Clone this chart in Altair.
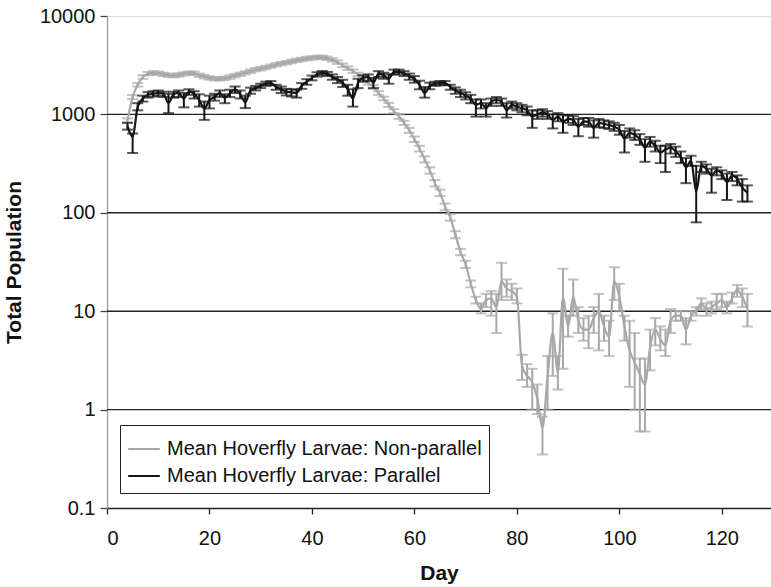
import altair as alt
import pandas as pd

days = list(range(4, 126))

gray_mean = [870, 1500, 2000, 2400, 2600, 2650, 2620, 2550, 2500, 2480,
             2520, 2580, 2640, 2620, 2500, 2420, 2350, 2310, 2300, 2330,
             2400, 2480, 2560, 2650, 2750, 2850, 2920, 3000, 3100, 3200,
             3280, 3360, 3450, 3550, 3620, 3700, 3750, 3800, 3800, 3720,
             3580, 3400, 3150, 2950, 2750, 2550, 2300, 2100, 1900, 1650,
             1450, 1250, 1080, 950, 820, 690, 560, 450, 350, 270,
             200, 160, 115, 90, 60, 40, 30, 19, 13, 10.5,
             13, 13.5, 11, 20, 17, 16, 14, 2.8, 2.2, 1.9,
             1.3, 0.65, 2.2, 6, 2.4, 14, 7, 14, 8, 6.5,
             6.5, 8.5, 10, 7, 5.5, 20, 14, 7, 4, 3,
             2.3, 1.8, 4.3, 6.5, 5.2, 4.5, 8, 9, 9, 6.5,
             9, 10, 12, 10.5, 11, 12, 13, 11, 13.5, 16.5,
             14, 10.5]
gray_lo = [830, 1430, 1920, 2300, 2500, 2550, 2520, 2450, 2400, 2380,
           2420, 2480, 2540, 2520, 2400, 2320, 2260, 2220, 2210, 2240,
           2300, 2380, 2460, 2550, 2640, 2740, 2800, 2880, 2980, 3070,
           3150, 3230, 3310, 3410, 3480, 3550, 3600, 3650, 3650, 3570,
           3440, 3260, 3020, 2830, 2640, 2450, 2210, 2010, 1820, 1580,
           1390, 1190, 1030, 900, 780, 650, 525, 420, 325, 250,
           185, 148, 106, 83, 55, 37, 27.5, 17.5, 12, 9.5,
           11, 9, 6, 13, 14, 13, 12, 2, 1.7, 1,
           0.9, 0.35, 1, 2.2, 1.6, 2.6, 5.5, 9, 6, 5,
           4.2, 6, 4, 5, 3.5, 13, 10, 5, 1.7, 1,
           0.6, 0.6, 2.5, 4.5, 4, 3.5, 6, 8, 8, 4.6,
           8, 9, 10.5, 9, 9.5, 10.5, 11, 9.5, 12, 14,
           11, 7]
gray_hi = [910, 1570, 2080, 2500, 2700, 2750, 2720, 2650, 2600, 2580,
           2620, 2680, 2740, 2720, 2600, 2520, 2440, 2400, 2390, 2420,
           2500, 2580, 2660, 2750, 2860, 2960, 3040, 3120, 3220, 3330,
           3410, 3490, 3590, 3690, 3760, 3850, 3900, 3950, 3950, 3870,
           3720, 3540, 3280, 3070, 2860, 2650, 2390, 2190, 1980, 1720,
           1510, 1310, 1130, 1000, 860, 730, 595, 480, 375, 290,
           215, 172, 124, 97, 65, 43, 32.5, 20.5, 14, 12,
           15, 16, 15, 31, 21, 19, 17, 3.6, 2.9, 2.6,
           1.8, 0.85, 3.5, 9.5, 3.5, 27, 9, 21, 11, 8.5,
           9, 11, 15, 9, 8, 28, 19, 9, 8, 6,
           3.3, 3.3, 6.5, 8.5, 7, 6.5, 10.5, 10, 10, 8.5,
           10, 11, 13.5, 12, 12.5, 15, 15, 12.5, 15.5, 18.5,
           17, 15]

black_mean = [760, 590, 1200, 1450, 1580, 1620, 1650, 1620, 1300, 1600,
              1650, 1450, 1700, 1620, 1400, 1150, 1400, 1500, 1650, 1470,
              1650, 1800, 1600, 1330, 1750, 1850, 1950, 2050, 2080, 1900,
              1800, 1700, 1680, 1650, 1950, 2150, 2350, 2550, 2640, 2580,
              2400, 2250, 2100, 1800, 1450, 2100, 2350, 2400, 2100, 2600,
              2500, 2300, 2700, 2700, 2600, 2450, 2300, 2000, 1650, 1950,
              2050, 2080, 2080, 1900, 1750, 1650, 1550, 1450, 1250, 1300,
              1160, 1350, 1400, 1350, 1100, 1250, 1200, 1150, 1100, 950,
              1000, 1040, 1000, 880, 950, 840, 900, 880, 750, 850,
              840, 730, 820, 800, 780, 750, 700, 570, 650, 620,
              560, 460, 530, 480, 410, 440, 460, 420, 370, 290,
              340, 165, 300, 280, 240, 270, 250, 205, 240, 220,
              180, 160]
black_lo = [700, 405, 1100, 1350, 1480, 1520, 1550, 1500, 1030, 1480,
            1500, 1180, 1580, 1450, 1200, 880, 1150, 1380, 1500, 1300,
            1500, 1650, 1450, 1160, 1620, 1750, 1850, 1950, 1980, 1780,
            1650, 1560, 1520, 1480, 1820, 2000, 2220, 2420, 2520, 2450,
            2250, 2080, 1900, 1550, 1200, 1850, 2150, 2200, 1850, 2400,
            2300, 2050, 2550, 2550, 2450, 2250, 2100, 1800, 1480, 1800,
            1950, 1980, 1980, 1780, 1620, 1500, 1420, 1300, 950, 1150,
            950, 1220, 1300, 1220, 930, 1150, 1100, 1050, 980, 730,
            900, 950, 900, 720, 850, 650, 820, 780, 600, 780,
            750, 580, 740, 730, 710, 680, 620, 410, 580, 550,
            490, 330, 470, 420, 320, 260, 400, 370, 320, 200,
            300, 80, 260, 250, 160, 240, 220, 135, 210, 190,
            130, 130]
black_hi = [820, 640, 1300, 1550, 1680, 1720, 1750, 1700, 1620, 1700,
            1750, 1650, 1800, 1720, 1600, 1350, 1550, 1620, 1750, 1600,
            1780, 1920, 1750, 1550, 1870, 1950, 2050, 2150, 2180, 2000,
            1920, 1820, 1800, 1780, 2080, 2280, 2480, 2680, 2760, 2700,
            2550, 2400, 2250, 2000, 1800, 2300, 2500, 2550, 2350, 2750,
            2650, 2550, 2850, 2850, 2750, 2600, 2450, 2200, 1900, 2100,
            2150, 2180, 2180, 2000, 1880, 1780, 1680, 1580, 1420, 1420,
            1300, 1450, 1500, 1450, 1300, 1350, 1300, 1250, 1200, 1100,
            1100, 1130, 1080, 1000, 1030, 980, 980, 960, 900, 920,
            920, 870, 900, 870, 850, 820, 780, 680, 720, 690,
            630, 560, 590, 540, 480, 480, 500, 470, 420, 360,
            380, 300, 330, 310, 280, 290, 270, 250, 260, 240,
            220, 190]

series_names = ["Mean Hoverfly Larvae: Non-parallel", "Mean Hoverfly Larvae: Parallel"]
series_colors = ["#a8a8a8", "#141414"]
x_ticks = [0, 20, 40, 60, 80, 100, 120]
y_ticks = [0.1, 1, 10, 100, 1000, 10000]
grid_vals = [1, 10, 100, 1000]

n = len(days)
df = pd.DataFrame({
    "day": days + days,
    "mean": gray_mean + black_mean,
    "lo": gray_lo + black_lo,
    "hi": gray_hi + black_hi,
    "series": [series_names[0]] * n + [series_names[1]] * n,
})

FONT = "Liberation Sans"
xs = alt.Scale(domain=[0, 129.6], nice=False, zero=False)
ys = alt.Scale(type="log", domain=[0.1, 10000], nice=False)

x_axis = alt.Axis(values=x_ticks, title="Day", grid=False, format="d",
                  labelFontSize=20, titleFontSize=21, labelFont=FONT, titleFont=FONT,
                  titleFontWeight="bold", labelColor="#111", titleColor="#111",
                  domainColor="#222", domainWidth=1.4, tickColor="#222", tickWidth=1.3,
                  tickSize=6, labelPadding=14, titlePadding=14)
y_axis = alt.Axis(values=y_ticks, title="Total Population", grid=False, format="~g",
                  labelFontSize=20, titleFontSize=21, labelFont=FONT, titleFont=FONT,
                  titleFontWeight="bold", labelColor="#111", titleColor="#111",
                  domainColor="#9a9a9a", domainWidth=1.3, tickColor="#444", tickWidth=1.3,
                  tickSize=7, labelPadding=5, titlePadding=15)

X = alt.X("day:Q", scale=xs, axis=x_axis)

grid = alt.Chart(pd.DataFrame({"g": grid_vals})).mark_rule(
    color="#222", strokeWidth=1.4
).encode(y=alt.Y("g:Q", scale=ys, axis=y_axis))

layers = [grid]
for name, col in zip(series_names, series_colors):
    sub = alt.Chart(df).transform_filter(alt.datum.series == name)
    bars = sub.mark_rule(color=col, strokeWidth=2).encode(
        x=X, y=alt.Y("lo:Q", scale=ys, axis=y_axis), y2="hi:Q")
    caps = sub.transform_fold(["lo", "hi"], as_=["k", "v"]).mark_tick(
        color=col, orient="horizontal", size=11, thickness=2
    ).encode(x=X, y=alt.Y("v:Q", scale=ys, axis=y_axis))
    line = sub.mark_line(strokeWidth=2.2, interpolate="monotone").encode(
        x=X, y=alt.Y("mean:Q", scale=ys, axis=y_axis),
        color=alt.Color("series:N",
                        scale=alt.Scale(domain=series_names, range=series_colors),
                        legend=alt.Legend(title=None, orient="none", legendX=13, legendY=409,
                                          symbolType="stroke", symbolSize=1000,
                                          symbolStrokeWidth=2, labelFontSize=20,
                                          labelFont=FONT, labelColor="#111", labelLimit=0,
                                          labelOffset=6, rowPadding=0, padding=7,
                                          fillColor="white", strokeColor="#222")))
    layers += [bars, caps, line]

chart = alt.layer(*layers).properties(
    width=664, height=492,
    padding={"left": 107, "top": 16, "right": 0, "bottom": 79},
    autosize=alt.AutoSizeParams(type="none"),
).configure_view(stroke="#9a9a9a", strokeWidth=1.3).configure(background="white")

chart.save("out.html", embed_options={"renderer": "svg", "actions": False})
